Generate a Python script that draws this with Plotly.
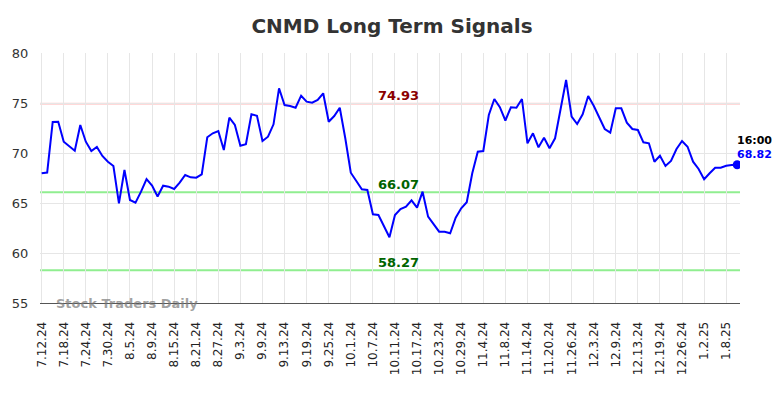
import plotly.graph_objects as go

dates = [
    "7.12.24", "7.15.24", "7.16.24", "7.17.24", "7.18.24", "7.19.24", "7.22.24", "7.23.24", "7.24.24", "7.25.24",
    "7.26.24", "7.29.24", "7.30.24", "7.31.24", "8.1.24", "8.2.24", "8.5.24", "8.6.24", "8.7.24", "8.8.24",
    "8.9.24", "8.12.24", "8.13.24", "8.14.24", "8.15.24", "8.16.24", "8.19.24", "8.20.24", "8.21.24", "8.22.24",
    "8.23.24", "8.26.24", "8.27.24", "8.28.24", "8.29.24", "8.30.24", "9.3.24", "9.4.24", "9.5.24", "9.6.24",
    "9.9.24", "9.10.24", "9.11.24", "9.12.24", "9.13.24", "9.16.24", "9.17.24", "9.18.24", "9.19.24", "9.20.24",
    "9.23.24", "9.24.24", "9.25.24", "9.26.24", "9.27.24", "9.30.24", "10.1.24", "10.2.24", "10.3.24", "10.4.24",
    "10.7.24", "10.8.24", "10.9.24", "10.10.24", "10.11.24", "10.14.24", "10.15.24", "10.16.24", "10.17.24", "10.18.24",
    "10.21.24", "10.22.24", "10.23.24", "10.24.24", "10.25.24", "10.28.24", "10.29.24", "10.30.24", "10.31.24", "11.1.24",
    "11.4.24", "11.5.24", "11.6.24", "11.7.24", "11.8.24", "11.11.24", "11.12.24", "11.13.24", "11.14.24", "11.15.24",
    "11.18.24", "11.19.24", "11.20.24", "11.21.24", "11.22.24", "11.25.24", "11.26.24", "11.27.24", "11.29.24", "12.2.24",
    "12.3.24", "12.4.24", "12.5.24", "12.6.24", "12.9.24", "12.10.24", "12.11.24", "12.12.24", "12.13.24", "12.16.24",
    "12.17.24", "12.18.24", "12.19.24", "12.20.24", "12.23.24", "12.24.24", "12.26.24", "12.27.24", "12.30.24", "12.31.24",
    "1.2.25", "1.3.25", "1.6.25", "1.7.25", "1.8.25", "1.9.25", "1.10.25",
]

values = [
    67.97, 68.05, 73.10, 73.13, 71.13, 70.63, 70.23, 72.80, 71.13, 70.20,
    70.60, 69.70, 69.13, 68.70, 64.97, 68.30, 65.30, 65.03, 66.13, 67.40,
    66.75, 65.65, 66.73, 66.63, 66.40, 67.03, 67.80, 67.57, 67.53, 67.87,
    71.57, 71.97, 72.20, 70.30, 73.53, 72.80, 70.73, 70.87, 73.87, 73.73,
    71.20, 71.63, 72.87, 76.47, 74.80, 74.70, 74.53, 75.73, 75.13, 75.03,
    75.30, 75.97, 73.13, 73.70, 74.53, 71.47, 68.03, 67.20, 66.37, 66.30,
    63.87, 63.80, 62.75, 61.57, 63.80, 64.40, 64.63, 65.27, 64.53, 66.13,
    63.63, 62.87, 62.13, 62.13, 61.97, 63.53, 64.47, 65.07, 67.97, 70.13,
    70.20, 73.80, 75.40, 74.58, 73.25, 74.57, 74.53, 75.40, 70.97, 71.97,
    70.57, 71.53, 70.47, 71.47, 74.47, 77.30, 73.63, 72.90, 73.87, 75.70,
    74.73, 73.53, 72.40, 72.03, 74.47, 74.47, 73.03, 72.40, 72.30, 71.07,
    70.97, 69.13, 69.73, 68.70, 69.20, 70.40, 71.20, 70.63, 69.13, 68.40,
    67.37, 67.97, 68.53, 68.53, 68.73, 68.80, 68.82,
]

tick_labels = [
    "7.12.24", "7.18.24", "7.24.24", "7.30.24", "8.5.24", "8.9.24", "8.15.24", "8.21.24", "8.27.24", "9.3.24",
    "9.9.24", "9.13.24", "9.19.24", "9.25.24", "10.1.24", "10.7.24", "10.11.24", "10.17.24", "10.23.24", "10.29.24",
    "11.4.24", "11.8.24", "11.14.24", "11.20.24", "11.26.24", "12.3.24", "12.9.24", "12.13.24", "12.19.24", "12.26.24",
    "1.2.25", "1.8.25",
]

resistance = 74.93
support_upper = 66.07
support_lower = 58.27
last_time = "16:00"

FONT = "DejaVu Sans"

fig = go.Figure()

fig.add_trace(go.Scatter(
    x=dates, y=values, mode="lines",
    line=dict(color="#0000ff", width=2),
    hoverinfo="skip", showlegend=False,
))
fig.add_trace(go.Scatter(
    x=[dates[-1]], y=[values[-1]], mode="markers",
    marker=dict(color="#0000ff", size=9),
    hoverinfo="skip", showlegend=False,
))

for lvl, col in [(resistance, "#ffcccc"), (support_upper, "#90ee90"), (support_lower, "#90ee90")]:
    fig.add_hline(y=lvl, line=dict(color=col, width=2), layer="below")

label_pos = 64.7  # category index where the level labels sit
for lvl, col in [(resistance, "#8b0000"), (support_upper, "#006400"), (support_lower, "#006400")]:
    fig.add_annotation(
        x=label_pos, y=lvl, text=f"{lvl:.2f}", showarrow=False,
        yanchor="middle", yshift=8, xanchor="center",
        font=dict(family=FONT, size=13, color=col, weight="bold"),
    )

fig.add_annotation(
    x=len(dates) - 1, y=values[-1], text=last_time, showarrow=False,
    xanchor="left", yanchor="middle", xshift=-2, yshift=24,
    font=dict(family=FONT, size=11, color="#000000", weight="bold"),
)
fig.add_annotation(
    x=len(dates) - 1, y=values[-1], text=f"{values[-1]:.2f}", showarrow=False,
    xanchor="left", yanchor="middle", xshift=-2, yshift=10,
    font=dict(family=FONT, size=11, color="#0000ff", weight="bold"),
)

fig.add_annotation(
    xref="paper", yref="paper", x=0.02, y=0.0, text="Stock Traders Daily",
    showarrow=False, xanchor="left", yanchor="middle",
    font=dict(family=FONT, size=13, color="rgba(120,120,120,0.7)", weight="bold"),
)

# page body has an 8px default margin, so the figure is sized/offset to compensate
fig.update_layout(
    width=776, height=390,
    margin=dict(l=32, r=44, t=45, b=95, autoexpand=False),
    paper_bgcolor="#ffffff", plot_bgcolor="#ffffff",
    title=dict(
        text="CNMD Long Term Signals", x=0.4948, xanchor="center", y=0.954, yanchor="middle",
        font=dict(family=FONT, size=20, color="#333333", weight="bold"),
    ),
    font=dict(family=FONT, size=12, color="#333333"),
    xaxis=dict(
        type="category", categoryorder="array", categoryarray=dates,
        range=[-0.3, len(dates) - 0.5],
        tickmode="array", tickvals=tick_labels, ticktext=tick_labels,
        tickangle=-90, showgrid=True, gridcolor="#e6e6e6", gridwidth=1,
        ticks="outside", ticklen=13, tickcolor="rgba(0,0,0,0)",
        showline=True, linecolor="#555555", linewidth=1,
        tickfont=dict(family=FONT, size=12, color="#222222"),
        zeroline=False, fixedrange=True, automargin=False,
    ),
    yaxis=dict(
        range=[55, 80], tickvals=[55, 60, 65, 70, 75, 80],
        showgrid=True, gridcolor="#e6e6e6", gridwidth=1,
        ticks="outside", ticklen=8, tickcolor="rgba(0,0,0,0)",
        zeroline=False, showline=False,
        tickfont=dict(family=FONT, size=13, color="#333333"),
        fixedrange=True, automargin=False,
    ),
)

fig.write_html("out.html")
